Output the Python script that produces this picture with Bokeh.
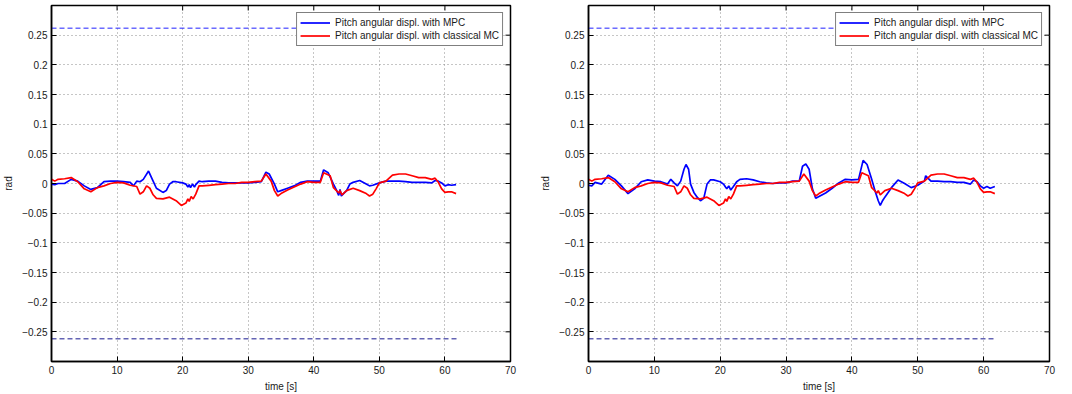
import math
from bokeh.plotting import figure
from bokeh.layouts import row
from bokeh.models import FixedTicker
from bokeh.embed import file_html
from bokeh.resources import INLINE

# ---------------- data ----------------
x_ticks = [0, 10, 20, 30, 40, 50, 60, 70]
y_ticks = [-0.25, -0.2, -0.15, -0.1, -0.05, 0, 0.05, 0.1, 0.15, 0.2, 0.25]
y_labels = ["\u22120.25", "\u22120.2", "\u22120.15", "\u22120.1", "\u22120.05", "0",
            "0.05", "0.1", "0.15", "0.2", "0.25"]
x_lim = (0, 70)
y_lim = (-0.3, 0.3)

limit_t = [0, 61.8]
limit_upper = 0.2618
limit_lower = -0.2618

# left panel, MPC
mpc1_t = [0, 0.5, 1, 2, 3, 4, 5, 6, 7, 8, 9, 10, 11, 12, 12.5, 13, 13.5, 14, 14.8, 15.5,
          16, 17, 17.5, 18, 18.5, 19, 20, 20.5, 20.8, 21, 21.2, 21.5, 21.8, 22, 22.5, 23,
          24, 25, 26, 27, 28, 29, 30, 31, 32, 32.7, 33.2, 34, 34.5, 35, 36, 37, 38, 39,
          40, 41, 41.5, 42.2, 43, 43.5, 43.8, 44, 44.2, 45, 45.5, 46, 47, 48, 48.5, 49,
          50, 51, 52, 53, 54, 55, 56, 57, 58, 58.5, 59, 59.5, 60, 60.5, 61, 61.7]
mpc1_y = [-0.001, -0.002, 0.000, 0.000, 0.007, 0.004, -0.004, -0.010, -0.007, 0.003,
          0.004, 0.004, 0.003, 0.002, -0.004, 0.004, 0.003, 0.007, 0.021, 0.004,
          -0.008, -0.015, -0.012, -0.001, 0.003, 0.003, 0.001, -0.001, -0.006, -0.002,
          -0.007, -0.001, -0.006, -0.002, 0.004, 0.003, 0.004, 0.004, 0.002, 0.001,
          0.001, 0.001, 0.001, 0.002, 0.003, 0.019, 0.016, -0.001, -0.014, -0.012,
          -0.008, -0.004, 0.002, 0.004, 0.004, 0.004, 0.023, 0.018, -0.001, -0.012,
          -0.020, -0.010, -0.021, -0.012, -0.001, 0.002, 0.005, -0.001, -0.004, -0.003,
          0.001, 0.004, 0.004, 0.004, 0.003, 0.002, 0.002, 0.002, 0.001, 0.005,
          0.004, 0.001, -0.004, -0.002, -0.003, -0.002]

# classical motion cueing (same in both panels)
mc_t = [0, 0.5, 1, 2, 3, 4, 5, 6, 7, 8, 9, 10, 11, 12, 13, 13.5, 14, 14.5, 15, 15.5,
        16, 17, 18, 19, 19.8, 20.5, 20.8, 21, 21.3, 21.6, 22, 22.5, 23, 24, 25, 26, 27,
        28, 29, 30, 31, 32, 32.7, 33.5, 34, 34.5, 35, 36, 37, 38, 39, 40, 41, 41.5,
        42.5, 43, 43.8, 44, 44.3, 45, 46, 47, 48, 48.5, 49, 49.5, 50, 51, 52, 53, 54,
        55, 56, 57, 58, 58.5, 59, 59.5, 60, 60.5, 61, 61.7]
mc_y = [0.007, 0.004, 0.007, 0.008, 0.010, 0.003, -0.009, -0.014, -0.007, -0.004,
        0.000, 0.002, 0.001, -0.003, -0.005, -0.018, -0.014, -0.004, -0.008, -0.019,
        -0.025, -0.026, -0.023, -0.029, -0.037, -0.033, -0.026, -0.030, -0.022, -0.026,
        -0.018, -0.004, -0.004, -0.003, -0.002, -0.001, 0.000, 0.000, 0.002, 0.002,
        0.003, 0.004, 0.016, 0.004, -0.012, -0.021, -0.017, -0.011, -0.006, -0.001,
        0.003, 0.002, 0.002, 0.018, 0.013, -0.007, -0.016, -0.012, -0.019, -0.012,
        -0.008, -0.012, -0.017, -0.021, -0.018, -0.009, 0.001, 0.004, 0.014, 0.016,
        0.016, 0.013, 0.010, 0.010, 0.007, 0.009, 0.002, -0.009, -0.015, -0.014,
        -0.014, -0.017]

# right panel, MPC
mpc2_t = [0, 0.5, 1, 2, 3, 4, 5, 6, 7, 8, 9, 10, 11, 12, 12.5, 13, 13.5, 14, 14.5, 14.8,
          15.2, 15.5, 16, 16.5, 17, 17.5, 18, 18.5, 19, 20, 20.5, 20.8, 21, 21.3, 21.6,
          22, 22.5, 23, 24, 25, 26, 27, 28, 29, 30, 31, 32, 32.5, 33, 33.5, 34, 34.5, 35,
          36, 37, 38, 39, 40, 41, 41.7, 42.3, 43, 43.5, 44, 44.3, 44.6, 45, 46, 47, 48,
          49, 50, 51, 51.2, 52, 53, 54, 55, 56, 57, 58, 58.5, 59, 59.5, 60, 60.5, 61, 61.7]
mpc2_y = [-0.003, -0.004, 0.002, -0.001, 0.014, 0.007, -0.004, -0.017, -0.009, 0.003,
          0.006, 0.004, 0.003, -0.001, 0.007, 0.001, -0.004, 0.004, 0.024, 0.032,
          0.024, -0.001, -0.015, -0.023, -0.029, -0.025, -0.001, 0.006, 0.006, 0.003,
          -0.001, -0.006, -0.009, -0.004, -0.011, -0.005, 0.003, 0.007, 0.008, 0.006,
          0.003, 0.001, 0.000, 0.001, 0.001, 0.004, 0.004, 0.029, 0.033, 0.024,
          -0.009, -0.025, -0.022, -0.016, -0.008, 0.001, 0.007, 0.006, 0.007, 0.039,
          0.032, 0.007, -0.012, -0.029, -0.037, -0.030, -0.023, -0.007, 0.006, 0.000,
          -0.007, -0.003, 0.004, 0.013, 0.004, 0.004, 0.003, 0.003, 0.002, 0.002,
          -0.001, 0.006, 0.003, -0.004, -0.008, -0.005, -0.008, -0.005]

FONT = "Liberation Sans"


def make_panel(mpc_t, mpc_y, border_left, border_right):
    p = figure(width=536, height=394, x_range=x_lim, y_range=y_lim,
               output_backend="svg", toolbar_location=None,
               min_border_left=border_left, min_border_right=border_right,
               min_border_top=5, min_border_bottom=31)
    p.outline_line_color = "black"
    p.outline_line_width = 1.5
    p.background_fill_color = "white"
    p.border_fill_color = "white"

    for ax in (p.xaxis[0], p.yaxis[0]):
        ax.major_tick_in = 5
        ax.major_tick_out = 0
        ax.minor_tick_line_color = None
        ax.axis_line_color = "black"
        ax.axis_line_width = 1.5
        ax.major_tick_line_color = "black"
        ax.major_label_text_font = FONT
        ax.major_label_text_font_size = "10px"
        ax.major_label_text_color = "#1a1a1a"
        ax.axis_label_text_font = FONT
        ax.axis_label_text_font_size = "10px"
        ax.axis_label_text_font_style = "normal"
        ax.axis_label_text_color = "#1a1a1a"
        ax.major_label_standoff = 4

    p.xaxis.ticker = FixedTicker(ticks=x_ticks)
    p.yaxis.ticker = FixedTicker(ticks=y_ticks)
    p.yaxis.major_label_overrides = {t: l for t, l in zip(y_ticks, y_labels)}
    p.xaxis.axis_label = "time [s]"
    p.yaxis.axis_label = "rad"
    p.xaxis.axis_label_standoff = 4
    p.yaxis.axis_label_standoff = 5

    p.xgrid.ticker = FixedTicker(ticks=x_ticks)
    p.ygrid.ticker = FixedTicker(ticks=y_ticks)
    for g in (p.xgrid[0], p.ygrid[0]):
        g.grid_line_color = "#8c8c8c"
        g.grid_line_dash = "1 3"
        g.grid_line_width = 1

    # mirrored inward ticks on top and right edges (MATLAB box style)
    p.ray(x=x_ticks, y=[y_lim[1]] * len(x_ticks), length=5, length_units="screen",
          angle=-math.pi / 2, line_color="black", line_width=1)
    p.ray(x=[x_lim[1]] * len(y_ticks), y=y_ticks, length=5, length_units="screen",
          angle=math.pi, line_color="black", line_width=1)

    p.line(limit_t, [limit_upper, limit_upper], line_color="#2020ff", line_width=1,
           line_dash="5 3")
    p.line(limit_t, [limit_lower, limit_lower], line_color="#181890", line_width=1,
           line_dash="5 3")

    p.line(mpc_t, mpc_y, line_color="#0000ff", line_width=1.7,
           legend_label="Pitch angular displ. with MPC")
    p.line(mc_t, mc_y, line_color="#ff0000", line_width=1.7,
           legend_label="Pitch angular displ. with classical MC")

    lg = p.legend[0]
    lg.location = "top_right"
    lg.border_line_color = "black"
    lg.border_line_width = 1
    lg.background_fill_alpha = 1
    lg.label_text_font = FONT
    lg.label_text_font_size = "10px"
    lg.label_text_color = "#1a1a1a"
    lg.glyph_width = 30
    lg.glyph_height = 13
    lg.label_height = 13
    lg.label_standoff = 5
    lg.padding = 3
    lg.spacing = 0
    lg.margin = 7
    return p


p1 = make_panel(mpc1_t, mpc1_y, 48, 26)
p2 = make_panel(mpc2_t, mpc2_y, 52, 23)
layout = row(p1, p2)

open("out.html", "w").write(file_html(layout, INLINE))
